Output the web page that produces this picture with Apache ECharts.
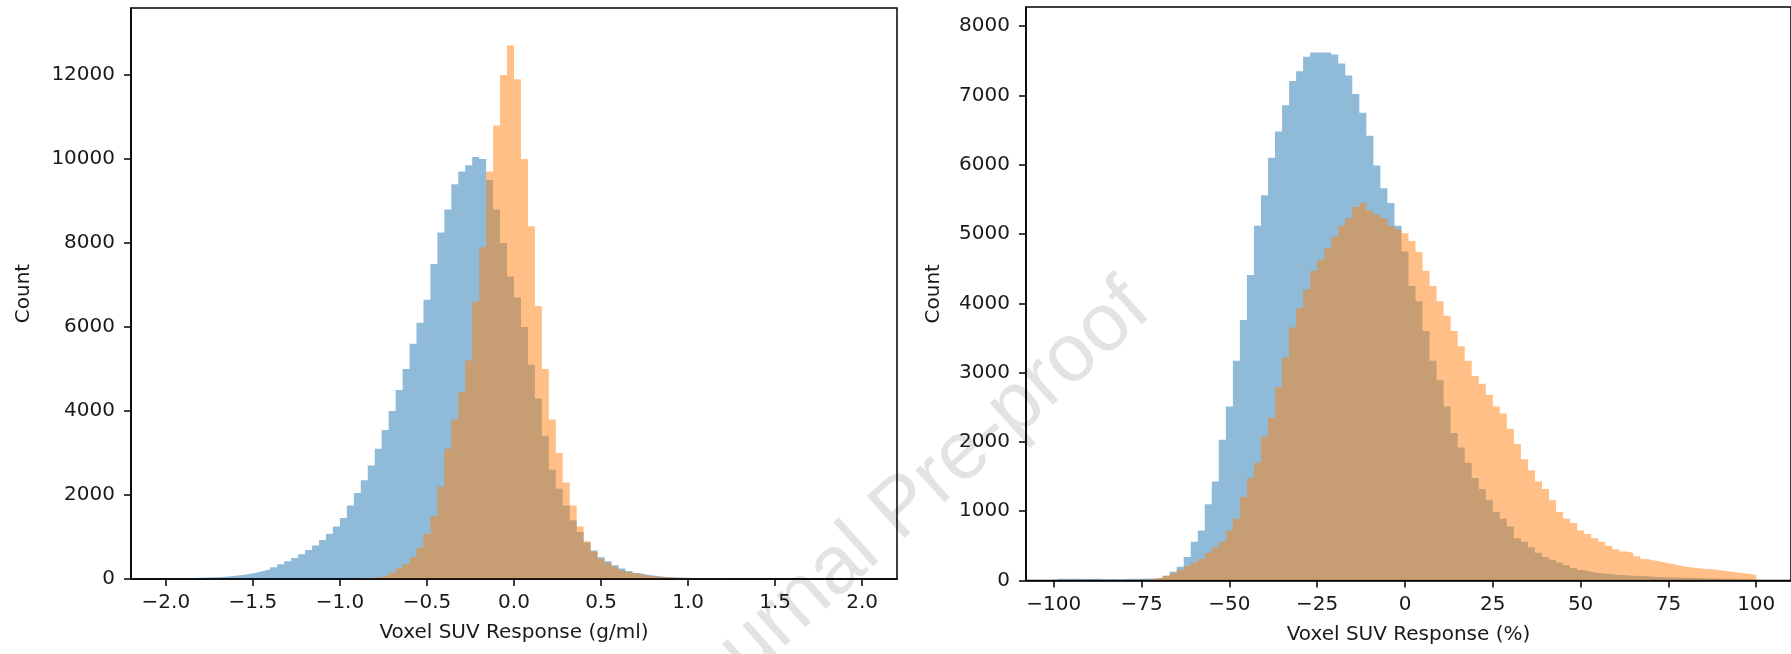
<!DOCTYPE html>
<html>
<head>
<meta charset="utf-8">
<script src="https://cdn.jsdelivr.net/npm/echarts@6/dist/echarts.min.js"></script>
<style>
html, body { margin: 0; padding: 0; background: #fff; }
#chart { width: 1791px; height: 654px; }
</style>
</head>
<body>
<div id="chart"></div>
<script>
// left panel: response in g/ml, 100 bins of 0.04 from -2.0 to 2.0
const gmlBinStart = -2.0
const gmlBinWidth = 0.04
const gmlDataEnd = 2.0
const gmlBlue = [
  20, 20, 20, 25, 30, 35, 40, 50, 60, 75,
  95, 120, 150, 190, 230, 280, 350, 420, 500, 590,
  690, 800, 930, 1080, 1250, 1450, 1750, 2050, 2350, 2700,
  3100, 3550, 4000, 4500, 5000, 5600, 6100, 6650, 7500, 8250,
  8800, 9400, 9700, 9850, 10050, 10000, 9500, 8800, 8000, 7200,
  6700, 6000, 5100, 4300, 3400, 2600, 2150, 1750, 1400, 1120,
  870, 680, 520, 420, 330, 250, 190, 140, 110, 85,
  65, 50, 40, 35, 30, 25, 22, 20, 18, 15,
  15, 12, 12, 10, 10, 10, 8, 8, 8, 6,
  6, 5, 5, 0, 0, 0, 0, 0, 0, 0
]
const gmlOrange = [
  0, 0, 0, 0, 0, 0, 0, 0, 0, 0,
  0, 0, 0, 0, 0, 0, 0, 0, 0, 0,
  0, 0, 0, 0, 0, 0, 0, 15, 20, 30,
  50, 90, 150, 250, 360, 520, 750, 1070, 1500, 2200,
  3100, 3800, 4450, 5200, 6600, 7900, 9700, 10800, 12000, 12700,
  11900, 10000, 8400, 6500, 5000, 3800, 3000, 2300, 1750, 1250,
  900, 650, 480, 380, 290, 210, 160, 120, 90, 65,
  50, 40, 32, 26, 20, 15, 12, 10, 8, 5,
  0, 0, 0, 0, 0, 0, 0, 0, 0, 0,
  0, 0, 0, 0, 0, 0, 0, 0, 0, 0
]
const gmlTicks = [-2, -1.5, -1, -0.5, 0, 0.5, 1, 1.5, 2]
const gmlCountTicks = [0, 2000, 4000, 6000, 8000, 10000, 12000]

// right panel: response in %, 100 bins of 2 from -99 (last one cut at 100)
const pctBinStart = -99
const pctBinWidth = 2
const pctDataEnd = 100
const pctBlue = [
  25, 20, 25, 20, 20, 25, 15, 20, 15, 20,
  25, 25, 30, 30, 40, 70, 125, 200, 340, 560,
  720, 1100, 1430, 2030, 2510, 3170, 3760, 4410, 5120, 5560,
  6100, 6480, 6860, 7210, 7350, 7560, 7620, 7620, 7620, 7590,
  7460, 7290, 7020, 6750, 6420, 5990, 5660, 5450, 5120, 4750,
  4250, 4030, 3600, 3170, 2890, 2510, 2130, 1920, 1700, 1480,
  1320, 1160, 990, 890, 780, 610, 560, 480, 400, 340,
  300, 260, 220, 180, 150, 125, 110, 100, 90, 80,
  75, 70, 65, 60, 55, 50, 48, 45, 40, 38,
  35, 33, 30, 28, 27, 25, 22, 20, 18, 15
]
const pctOrange = [
  0, 0, 0, 0, 0, 0, 0, 0, 0, 0,
  0, 10, 15, 25, 40, 70, 100, 150, 210, 260,
  310, 400, 480, 560, 720, 890, 1210, 1480, 1700, 2080,
  2350, 2790, 3220, 3650, 3930, 4200, 4470, 4630, 4790, 4960,
  5120, 5230, 5390, 5450, 5340, 5280, 5230, 5120, 5070, 5010,
  4900, 4740, 4470, 4250, 4030, 3820, 3600, 3380, 3170, 2950,
  2840, 2680, 2510, 2410, 2190, 1970, 1750, 1590, 1430, 1320,
  1160, 990, 890, 830, 720, 670, 610, 560, 500, 450,
  420, 400, 350, 310, 290, 270, 250, 230, 210, 190,
  180, 170, 165, 150, 140, 125, 115, 100, 90, 80
]
const pctTicks = [-100, -75, -50, -25, 0, 25, 50, 75, 100]
const pctCountTicks = [0, 1000, 2000, 3000, 4000, 5000, 6000, 7000, 8000]

const BLUE = '#1f77b4'
const ORANGE = '#ff7f0e'
const FONT = 'DejaVu Sans'
const TEXT = '#1a1a1a'

const minus = (s) => s.replace('-', '\u2212')

// step outline of a histogram, closed down to zero at the right edge
const histSeries = (name, idx, counts, start, width, end, color) => {
  const pts = counts.map((c, i) => [start + i * width, c])
  pts.push([Math.min(start + counts.length * width, end), 0])
  return {
    name,
    type: 'line',
    xAxisIndex: idx,
    yAxisIndex: idx,
    data: pts,
    step: 'end',
    symbol: 'none',
    silent: true,
    lineStyle: { width: 0, opacity: 0 },
    areaStyle: { color, opacity: 0.5 }
  }
}

const xAxisBase = (gi, min, max, ticks, fmt, name) => ({
  type: 'value',
  gridIndex: gi,
  min,
  max,
  z: 10,
  name,
  nameLocation: 'middle',
  nameGap: 44,
  nameTextStyle: { fontFamily: FONT, fontSize: 20, color: TEXT },
  splitLine: { show: false },
  axisLine: { show: true, onZero: false, lineStyle: { color: '#000', width: 1.5 } },
  axisTick: { show: true, customValues: ticks, length: 7, lineStyle: { color: '#000', width: 1.5 } },
  axisLabel: {
    customValues: ticks,
    formatter: fmt,
    margin: 14,
    fontFamily: FONT,
    fontSize: 20,
    color: TEXT
  }
})

const yAxisBase = (gi, max, ticks, gap) => ({
  type: 'value',
  gridIndex: gi,
  min: 0,
  max,
  z: 10,
  name: 'Count',
  nameLocation: 'middle',
  nameGap: gap,
  nameTextStyle: { fontFamily: FONT, fontSize: 20, color: TEXT },
  splitLine: { show: false },
  axisLine: { show: true, onZero: false, lineStyle: { color: '#000', width: 1.5 } },
  axisTick: { show: true, customValues: ticks, length: 7, lineStyle: { color: '#000', width: 1.5 } },
  axisLabel: {
    customValues: ticks,
    formatter: (v) => String(v),
    margin: 16,
    fontFamily: FONT,
    fontSize: 20,
    color: TEXT
  }
})

const chart = echarts.init(document.getElementById('chart'))
chart.setOption({
  animation: false,
  backgroundColor: '#fff',
  grid: [
    { left: 131, top: 8, width: 766, height: 571, show: true, borderColor: '#000', borderWidth: 1.5 },
    { left: 1026, top: 7, width: 769, height: 573.5, show: true, borderColor: '#000', borderWidth: 1.5 }
  ],
  xAxis: [
    xAxisBase(0, -2.2, 2.2, gmlTicks, (v) => minus(v.toFixed(1)), 'Voxel SUV Response (g/ml)'),
    xAxisBase(1, -107.9, 109.9, pctTicks, (v) => minus(String(v)), 'Voxel SUV Response (%)')
  ],
  yAxis: [
    yAxisBase(0, 13595, gmlCountTicks, 97),
    yAxisBase(1, 8277, pctCountTicks, 82)
  ],
  graphic: [
    {
      type: 'text',
      x: 903,
      y: 509,
      rotation: 42 * Math.PI / 180,
      z: -1,
      silent: true,
      style: {
        text: 'Journal Pre-proof',
        font: '82px "Liberation Sans", Arial, sans-serif',
        fill: '#e3e3e3',
        align: 'center',
        verticalAlign: 'middle'
      }
    }
  ],
  series: [
    histSeries('gml a', 0, gmlBlue, gmlBinStart, gmlBinWidth, gmlDataEnd, BLUE),
    histSeries('gml b', 0, gmlOrange, gmlBinStart, gmlBinWidth, gmlDataEnd, ORANGE),
    histSeries('pct a', 1, pctBlue, pctBinStart, pctBinWidth, pctDataEnd, BLUE),
    histSeries('pct b', 1, pctOrange, pctBinStart, pctBinWidth, pctDataEnd, ORANGE)
  ]
})
</script>
</body>
</html>
